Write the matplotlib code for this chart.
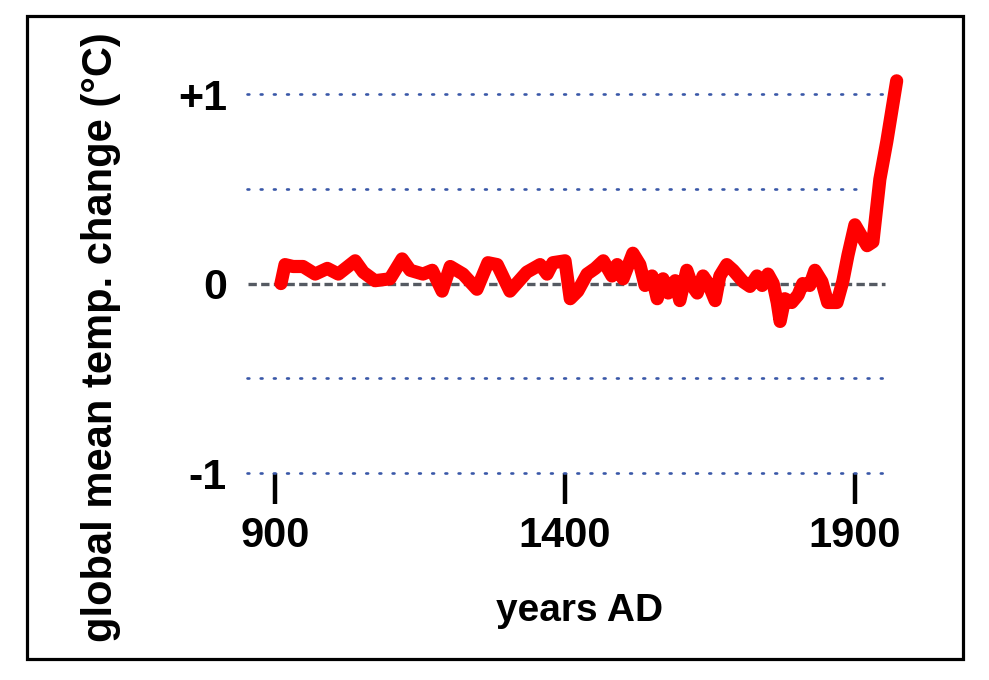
import matplotlib
matplotlib.use("Agg")
import matplotlib.pyplot as plt
from matplotlib.patches import Rectangle

plt.rcParams['font.family'] = ['Liberation Sans', 'DejaVu Sans']
plt.rcParams['font.weight'] = 'bold'

# reconstructed temperature anomaly
years = [910, 917, 931, 948, 969, 990, 1009, 1038, 1052, 1072, 1098, 1119, 1133,
         1155, 1171, 1188, 1202, 1224, 1248, 1267, 1283, 1305, 1334, 1357, 1369,
         1379, 1400, 1409, 1422, 1438, 1452, 1466, 1481, 1490, 1500, 1517, 1529,
         1538, 1550, 1559, 1569, 1578, 1590, 1598, 1610, 1619, 1628, 1638, 1647,
         1659, 1667, 1679, 1690, 1707, 1719, 1731, 1740, 1750, 1759, 1766, 1771,
         1779, 1791, 1802, 1810, 1822, 1831, 1843, 1853, 1869, 1879, 1888, 1900,
         1921, 1931, 1943, 1955, 1972]
temps = [0.0, 0.10, 0.09, 0.09, 0.05, 0.08, 0.05, 0.12, 0.06, 0.015, 0.025, 0.13, 0.07,
         0.05, 0.07, -0.04, 0.09, 0.05, -0.03, 0.11, 0.10, -0.04, 0.06, 0.10, 0.05,
         0.11, 0.12, -0.08, -0.04, 0.05, 0.08, 0.12, 0.04, 0.10, 0.025, 0.16, 0.10,
         -0.01, 0.04, -0.08, 0.025, -0.05, 0.015, -0.09, 0.07, -0.01, -0.05, 0.04, 0.0,
         -0.09, 0.04, 0.10, 0.07, 0.01, -0.015, 0.04, -0.01, 0.05, 0.0, -0.10, -0.20,
         -0.08, -0.10, -0.06, 0.0, -0.01, 0.07, 0.01, -0.10, -0.10, 0.01, 0.15, 0.31,
         0.20, 0.22, 0.55, 0.75, 1.07]

xticks = [900, 1400, 1900]
xtick_labels = ['900', '1400', '1900']
yticks = [1, 0, -1]
ytick_labels = ['+1', '0', '-1']

# dotted guide lines and where each one stops
grid_levels = [1.0, 0.5, -0.5, -1.0]
grid_ends = [1983, 1917, 1960, 1960]

W, H = 989, 680
fig = plt.figure(figsize=(W / 100, H / 100), dpi=100)
ax = fig.add_axes([245 / W, (H - 473) / H, (910 - 245) / W, (473 - 60) / H])
ax.set_xlim(848, 1995)
ax.set_ylim(-1.0, 1.18)

for lev, end in zip(grid_levels, grid_ends):
    ax.hlines(lev, 852, end, colors='#3a58a8', linewidth=1.9,
              linestyles=(0, (0.7, 4.3)), capstyle='round', clip_on=False)
ax.hlines(0, 853, 1952, colors='#555a62', linewidth=2.4, linestyles=(0, (2.5, 1.3)))

ax.plot(years, temps, color='#ff0000', linewidth=9.5, solid_joinstyle='round',
        solid_capstyle='round', zorder=5)

for s in ax.spines.values():
    s.set_visible(False)

ax.set_xticks(xticks)
ax.set_xticklabels(xtick_labels, fontsize=30, fontweight='bold')
ax.tick_params(axis='x', direction='out', length=22, width=3.2, color='black', pad=9)
ax.set_yticks(yticks)
ax.set_yticklabels(ytick_labels, fontsize=31, fontweight='bold')
ax.tick_params(axis='y', length=0, pad=13)

fig.text(580 / W, (H - 611) / H, 'years AD', fontsize=28, fontweight='bold',
         ha='center', va='center')
fig.text(101 / W, (H - 337) / H, 'global mean temp. change (°C)', fontsize=30,
         fontweight='bold', rotation=90, ha='center', va='center')

fig.add_artist(Rectangle((27 / W, (H - 659) / H), (963 - 27) / W, (659 - 16) / H,
                         transform=fig.transFigure, fill=False, edgecolor='black',
                         linewidth=2.3))

fig.savefig('out.png', dpi=100, facecolor='white')
